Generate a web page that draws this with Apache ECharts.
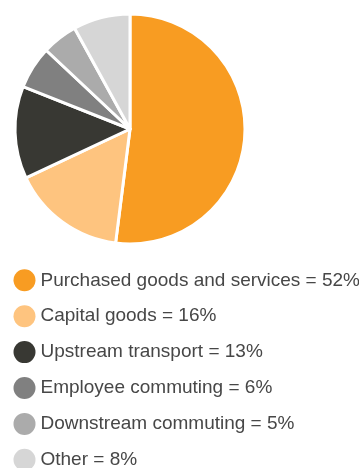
<!DOCTYPE html>
<html>
<head>
<meta charset="utf-8">
<script src="https://cdn.jsdelivr.net/npm/echarts@6/dist/echarts.min.js"></script>
<style>
  html, body { margin: 0; padding: 0; background: #fff; }
  #chart { width: 359px; height: 468px; }
</style>
</head>
<body>
<div id="chart"></div>
<script>
// Scope 3 emissions share by category (percent)
const categories = [
  'Purchased goods and services',
  'Capital goods',
  'Upstream transport',
  'Employee commuting',
  'Downstream commuting',
  'Other'
];
const shares = [52, 16, 13, 6, 5, 8];
const palette = ['#F89C22', '#FEC47F', '#383833', '#808080', '#ABABAB', '#D6D6D6'];

const shareByName = {};
categories.forEach((c, i) => { shareByName[c] = shares[i]; });

const chart = echarts.init(document.getElementById('chart'), null, { renderer: 'canvas' });
chart.setOption({
  animation: false,
  color: palette,
  legend: {
    orient: 'vertical',
    left: 13.5,
    top: 269.3,
    height: 220,
    padding: 0,
    icon: 'circle',
    itemWidth: 22,
    itemHeight: 22,
    itemGap: 13.9,
    selectedMode: false,
    itemStyle: { borderWidth: 0 },
    textStyle: {
      fontFamily: 'Liberation Sans, Arial, sans-serif',
      fontSize: 19,
      lineHeight: 22,
      color: '#474747'
    },
    formatter: name => name + ' = ' + shareByName[name] + '%',
    data: categories
  },
  series: [{
    type: 'pie',
    center: [130, 129],
    radius: [0, 115],
    startAngle: 90,
    clockwise: true,
    label: { show: false },
    labelLine: { show: false },
    emphasis: { disabled: true },
    itemStyle: { borderColor: '#ffffff', borderWidth: 3 },
    data: categories.map((c, i) => ({ name: c, value: shares[i] }))
  }]
});
</script>
</body>
</html>
